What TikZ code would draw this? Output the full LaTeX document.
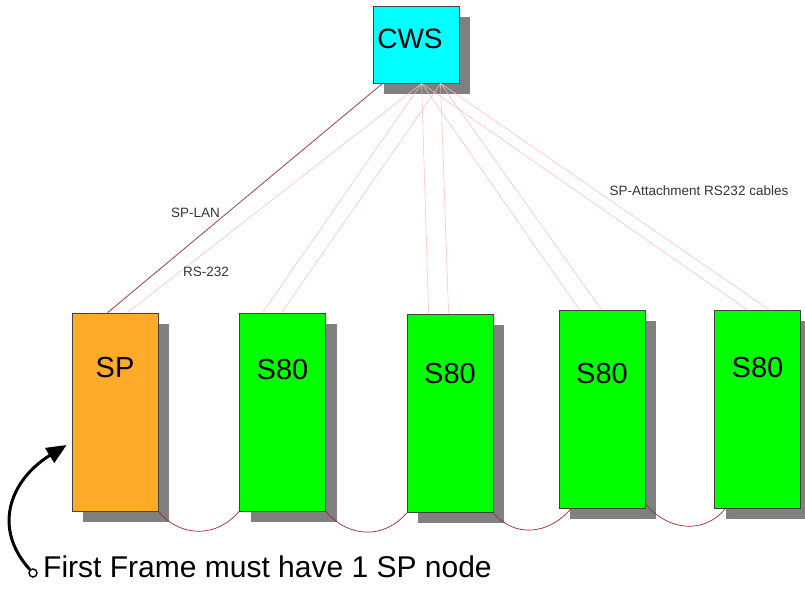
\documentclass[tikz,border=0pt]{standalone}
\usepackage{fontspec}
\setmainfont{Liberation Sans}
\usepackage{xcolor}
\usetikzlibrary{positioning, arrows.meta, shadows, calc}

\definecolor{cwscyan}{RGB}{0,255,255}
\definecolor{sporange}{RGB}{255,170,40}
\definecolor{s80green}{RGB}{0,255,0}
\definecolor{lanred}{RGB}{160,40,40}
\definecolor{rspink}{RGB}{255,190,190}
\definecolor{shadowgray}{RGB}{128,128,128}

\tikzset{
    cwsbox/.style={rectangle, draw=black!75, line width=0.8pt, inner sep=0pt,
        drop shadow={shadow xshift=11pt, shadow yshift=-11pt, fill=shadowgray, opacity=1}},
    framebox/.style={cwsbox, minimum width=86pt, minimum height=198pt},
    frametxt/.style={font=\fontsize{29}{34}\selectfont, inner sep=0pt},
    cable/.style={font=\fontsize{13.5}{15}\selectfont, text=black!80},
    lan/.style={draw=lanred, line width=0.7pt},
    rs/.style={draw=rspink, line width=0.55pt},
    framelink/.style={draw=lanred, line width=0.7pt},
    pointer/.style={line width=3pt, -{Triangle[length=20pt, width=17pt]}},
}

\begin{document}
\begin{tikzpicture}[x=1pt, y=1pt]
    \useasboundingbox (0,0) rectangle (805,594);

    % control workstation and the frames
    \node (cws) [cwsbox, fill=cwscyan, minimum width=86pt, minimum height=77pt] at (416,549.5) {};
    \node (sp) [framebox, fill=sporange] at (115,182) {};
    \node (s80a) [framebox, fill=s80green, right of=sp, node distance=167.5pt] {};
    \node (s80b) [framebox, fill=s80green, right of=s80a, node distance=167.5pt, yshift=-1.5pt] {};
    \node (s80c) [framebox, fill=s80green, right of=s80b, node distance=152pt, yshift=4pt] {};
    \node (s80d) [framebox, fill=s80green, right of=s80c, node distance=155.5pt] {};

    \node (cwstxt) [font=\fontsize{28}{32}\selectfont, inner sep=0pt] at ([xshift=-6pt, yshift=6pt]cws.center) {CWS};
    \node (sptxt) [frametxt] at ([yshift=-54.5pt]sp.north) {SP};
    \node (s80atxt) [frametxt] at ([yshift=-57pt]s80a.north) {S80};
    \node (s80btxt) [frametxt] at ([yshift=-59pt]s80b.north) {S80};
    \node (s80ctxt) [frametxt] at ([yshift=-63pt]s80c.north) {S80};
    \node (s80dtxt) [frametxt] at ([yshift=-57pt]s80d.north) {S80};

    % cables from the CWS
    \coordinate (lanout) at ([xshift=10pt]cws.south west);
    \coordinate (rsouta) at ([xshift=49pt]cws.south west);
    \coordinate (rsoutb) at ([xshift=68pt]cws.south west);

    \draw[lan] (lanout) -- ([xshift=36pt]sp.north west);
    \draw[rs] (rsouta) -- ([xshift=56pt]sp.north west);
    \draw[rs] (rsouta) -- ([xshift=23.5pt]s80a.north west);
    \draw[rs] (rsoutb) -- ([xshift=42.5pt]s80a.north west);
    \draw[rs] (rsouta) -- ([xshift=22pt]s80b.north west);
    \draw[rs] (rsoutb) -- ([xshift=42pt]s80b.north west);
    \draw[rs] (rsouta) -- ([xshift=21pt]s80c.north west);
    \draw[rs] (rsoutb) -- ([xshift=43pt]s80c.north west);
    \draw[rs] (rsouta) -- ([xshift=33.5pt]s80d.north west);
    \draw[rs] (rsoutb) -- ([xshift=55.5pt]s80d.north west);

    \node (lanlbl) [cable] at (195.5,381) {SP-LAN};
    \node (rslbl) [cable] at (206,322) {RS-232};
    \node (attlbl) [cable] at (699,403) {SP-Attachment RS232 cables};

    % frame to frame links
    \draw[framelink] (sp.south east) to[out=-50, in=-130, looseness=1.1] (s80a.south west);
    \draw[framelink] (s80a.south east) to[out=-50, in=-130, looseness=1.1] (s80b.south west);
    \draw[framelink] (s80b.south east) to[out=-50, in=-130, looseness=1.1] ([xshift=12pt]s80c.south west);
    \draw[framelink] ([yshift=5pt]s80c.south east) to[out=-50, in=-130, looseness=1.1] ([xshift=11pt]s80d.south west);

    % note
    \coordinate (tip) at ([xshift=-5pt, yshift=-33pt]sp.west);
    \node (ring) [circle, draw, line width=1.4pt, fill=white, minimum size=8pt, inner sep=0pt] at (33,21) {};
    \draw[pointer] (ring) .. controls (-8,66) and (10,114) .. (tip);
    \node (note) [anchor=base west, font=\fontsize{30}{34}\selectfont, inner sep=0pt] at (43,17)
        {First Frame must have 1 SP node};
\end{tikzpicture}
\end{document}
